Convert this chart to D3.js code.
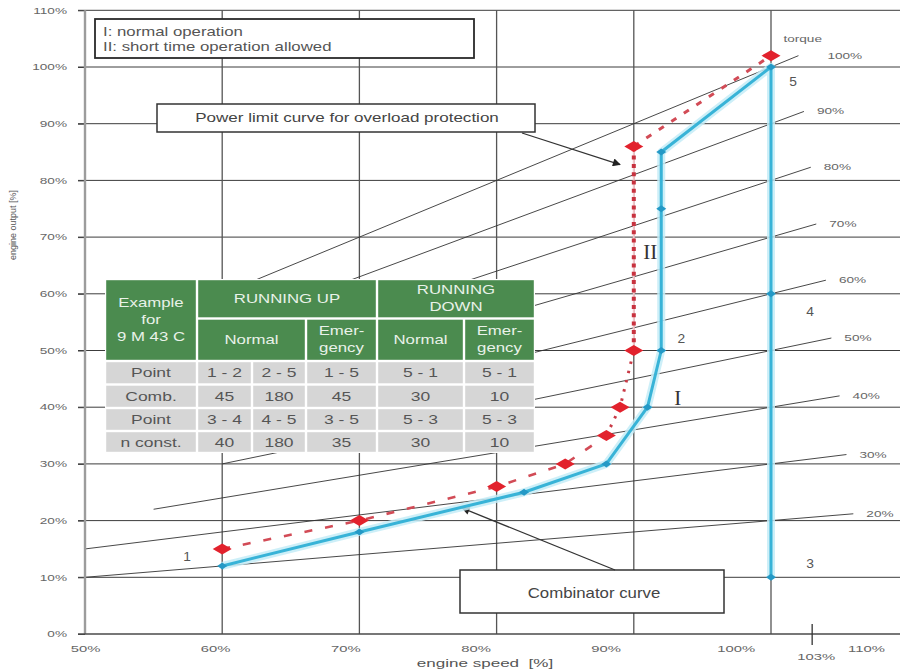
<!DOCTYPE html>
<html>
<head>
<meta charset="utf-8">
<script src="https://cdn.jsdelivr.net/npm/d3@7"></script>
<style>
  html, body { margin: 0; padding: 0; background: #fff; }
  svg { display: block; }
</style>
</head>
<body>
<svg id="chart" width="900" height="671"></svg>
<script>
// ---- values (engine speed and engine output in percent) ----
const speedTicks = [50, 60, 70, 80, 90, 100, 110];
const outputTicks = [0, 10, 20, 30, 40, 50, 60, 70, 80, 90, 100, 110];
const gridSpeeds = [60, 70, 80, 90, 100];
const markedSpeed = 103;

// constant-torque lines: level, speed where each line starts and ends
const torqueLevels = [20, 30, 40, 50, 60, 70, 80, 90, 100];
const torqueFrom = [50, 50, 55, 60, 60, 60, 60, 60, 60];
const torqueTo = [106, 105.5, 105, 104.4, 104, 103.3, 102.9, 102.4, 102];

// power limit curve for overload protection
const limitSpeed = [60, 70, 80, 85, 88, 89, 90, 90, 100];
const limitOutput = [15, 20, 26, 30, 35, 40, 50, 86, 102];

// combinator curve (running points 1..5)
const combSpeed = [60, 70, 82, 88, 91, 92, 92, 92, 100, 100, 100];
const combOutput = [12, 18, 25, 30, 40, 50, 75, 85, 100, 60, 10];
const pointTags = ["1", "2", "3", "4", "5"];
const pointTagIndex = [0, 5, 10, 9, 8];

// example table for 9 M 43 C
const tableCorner = ["Example", "for", "9 M 43 C"];
const tableGroups = [["RUNNING UP"], ["RUNNING", "DOWN"]];
const tableModes = [["Normal"], ["Emer-", "gency"], ["Normal"], ["Emer-", "gency"]];
const tableRowLabels = ["Point", "Comb.", "Point", "n const."];
const tableRows = [
  ["1 - 2", "2 - 5", "1 - 5", "5 - 1", "5 - 1"],
  ["45", "180", "45", "30", "10"],
  ["3 - 4", "4 - 5", "3 - 5", "5 - 3", "5 - 3"],
  ["40", "180", "35", "30", "10"]
];

const legendLines = ["I: normal operation", "II: short time operation allowed"];
const limitNote = "Power limit curve for overload protection";
const combNote = "Combinator curve";

// ---- drawing ----
const SANS = '"Liberation Sans", Arial, Helvetica, sans-serif';
const svg = d3.select("#chart");

const x = d3.scaleLinear().domain([50, 110]).range([85, 908.2]);
const y = d3.scaleLinear().domain([0, 110]).range([634, 10.3]);
const xLabel = d3.scaleLinear().domain([50, 110]).range([85, 866]);

function addText(parent, px, py, str, o = {}) {
  return parent.append("text")
    .attr("transform", `translate(${px},${py}) scale(${o.sx ?? 1.4},1)`)
    .attr("text-anchor", o.anchor ?? "middle")
    .attr("dominant-baseline", "central")
    .attr("font-family", o.family ?? SANS)
    .attr("font-size", o.size ?? 12)
    .attr("font-weight", o.weight ?? 400)
    .attr("fill", o.fill ?? "#555")
    .style("white-space", "pre")
    .text(str);
}

const defs = svg.append("defs");
defs.append("marker")
  .attr("id", "arrowHead")
  .attr("viewBox", "0 0 10 10")
  .attr("refX", 9).attr("refY", 5)
  .attr("markerWidth", 12).attr("markerHeight", 8)
  .attr("markerUnits", "userSpaceOnUse")
  .attr("orient", "auto")
  .append("path").attr("d", "M0,0L10,5L0,10Z").attr("fill", "#222");

// grid
const grid = svg.append("g");
grid.selectAll("line.hgrid")
  .data(outputTicks.filter(d => d > 0))
  .join("line").attr("class", "hgrid")
  .attr("x1", 78).attr("x2", 900)
  .attr("y1", d => y(d)).attr("y2", d => y(d))
  .attr("stroke", "#3c3c3c").attr("stroke-width", 1);
grid.selectAll("line.vgrid")
  .data(gridSpeeds)
  .join("line").attr("class", "vgrid")
  .attr("x1", d => x(d)).attr("x2", d => x(d))
  .attr("y1", y(110)).attr("y2", y(0))
  .attr("stroke", "#555").attr("stroke-width", 1.3);

// constant-torque lines and their labels
const torque = svg.append("g");
torque.selectAll("line")
  .data(torqueLevels)
  .join("line")
  .attr("x1", (d, i) => x(torqueFrom[i]))
  .attr("y1", (d, i) => y(torqueFrom[i] * d / 100))
  .attr("x2", (d, i) => x(torqueTo[i]))
  .attr("y2", (d, i) => y(torqueTo[i] * d / 100))
  .attr("stroke", "#333").attr("stroke-width", 0.9);
torqueLevels.forEach((d, i) => {
  const lx = x(torqueTo[i]) + 13 + (d === 100 ? 16 : 0);
  const ly = y(torqueTo[i] * d / 100);
  addText(torque, lx, ly, d + "%", { size: 8.5, sx: 1.6, anchor: "start", fill: "#666" });
  if (d === 100) addText(torque, lx - 44, ly - 17, "torque", { size: 8.5, sx: 1.6, anchor: "start", fill: "#666" });
});

// axes
const yAxis = d3.axisLeft(y).tickValues(outputTicks).tickFormat(d => d + "%").tickSize(7).tickPadding(11);
const gy = svg.append("g").attr("transform", `translate(${x(50)},0)`).call(yAxis);
gy.select(".domain").remove();
gy.selectAll(".tick line").attr("stroke", "#3c3c3c");
gy.selectAll(".tick text")
  .attr("font-family", SANS).attr("font-size", 8.5).attr("fill", "#666")
  .attr("x", -18 / 1.6).attr("transform", "scale(1.6,1)");

const xAxis = d3.axisBottom(xLabel).tickValues(speedTicks).tickFormat(d => d + "%").tickSize(0).tickPadding(12);
const gx = svg.append("g").attr("transform", `translate(0,${y(0)})`).call(xAxis);
gx.select(".domain").remove();
gx.selectAll(".tick text")
  .attr("font-family", SANS).attr("font-size", 9).attr("fill", "#666")
  .attr("transform", "scale(1.65,1)");

svg.append("line")
  .attr("x1", x(50)).attr("x2", x(50)).attr("y1", y(110)).attr("y2", y(0))
  .attr("stroke", "#9c9c9c").attr("stroke-width", 2.4);
svg.append("line")
  .attr("x1", 78).attr("x2", 900).attr("y1", y(0)).attr("y2", y(0))
  .attr("stroke", "#4a4a4a").attr("stroke-width", 1.3);
svg.append("line")
  .attr("x1", x(markedSpeed)).attr("x2", x(markedSpeed))
  .attr("y1", y(0) - 10).attr("y2", y(0) + 11)
  .attr("stroke", "#333").attr("stroke-width", 1.3);
addText(svg, x(markedSpeed) + 4, 657, markedSpeed + "%", { size: 9, sx: 1.65, fill: "#666" });

addText(svg, 485, 663, "engine speed  [%]", { size: 11, sx: 1.55, fill: "#555" });
svg.append("text")
  .attr("transform", "translate(13,225) rotate(-90)")
  .attr("text-anchor", "middle").attr("dominant-baseline", "central")
  .attr("font-family", SANS).attr("font-size", 9).attr("fill", "#555")
  .text("engine output [%]");

// example table
const tbl = svg.append("g");
const colX = [105, 197, 252, 306, 377, 464, 535];
const rowY = [279, 318.5, 361, 384.5, 408, 431, 453];
const inset = 1.2;
const GREEN = "#4b8b4f", GREY = "#d6d6d6";
tbl.append("rect")
  .attr("x", colX[0]).attr("y", rowY[0])
  .attr("width", colX[6] - colX[0]).attr("height", rowY[6] - rowY[0])
  .attr("fill", "#fff");
function cell(c0, c1, r0, r1, fill, lines, color, size, lh) {
  tbl.append("rect")
    .attr("x", colX[c0] + inset).attr("y", rowY[r0] + inset)
    .attr("width", colX[c1] - colX[c0] - 2 * inset)
    .attr("height", rowY[r1] - rowY[r0] - 2 * inset)
    .attr("fill", fill);
  const cx = (colX[c0] + colX[c1]) / 2;
  const cy = (rowY[r0] + rowY[r1]) / 2;
  lines.forEach((s, k) => {
    addText(tbl, cx, cy + (k - (lines.length - 1) / 2) * lh, s, { size: size, sx: 1.4, fill: color });
  });
}
const HEAD = "#e9f2e9";
cell(0, 1, 0, 2, GREEN, tableCorner, HEAD, 12, 17);
cell(1, 4, 0, 1, GREEN, tableGroups[0], HEAD, 12, 17);
cell(4, 6, 0, 1, GREEN, tableGroups[1], HEAD, 12, 17);
cell(1, 3, 1, 2, GREEN, tableModes[0], HEAD, 12, 17);
cell(3, 4, 1, 2, GREEN, tableModes[1], HEAD, 12, 17);
cell(4, 5, 1, 2, GREEN, tableModes[2], HEAD, 12, 17);
cell(5, 6, 1, 2, GREEN, tableModes[3], HEAD, 12, 17);
tableRows.forEach((row, r) => {
  cell(0, 1, r + 2, r + 3, GREY, [tableRowLabels[r]], "#555", 12.5, 0);
  row.forEach((v, c) => cell(c + 1, c + 2, r + 2, r + 3, GREY, [v], "#555", 12.5, 0));
});

// legend box
const legend = svg.append("g");
legend.append("rect").attr("x", 95).attr("y", 19).attr("width", 379).attr("height", 39)
  .attr("fill", "#fff").attr("stroke", "#2a2a2a").attr("stroke-width", 1.8);
legendLines.forEach((s, i) => addText(legend, 103, 31.5 + i * 15, s, { size: 12, sx: 1.4, anchor: "start", fill: "#555" }));

// annotation boxes with arrows
const notes = svg.append("g");
notes.append("rect").attr("x", 157).attr("y", 104).attr("width", 378).attr("height", 28)
  .attr("fill", "#fff").attr("stroke", "#333").attr("stroke-width", 1.5);
addText(notes, 347, 118, limitNote, { size: 12, sx: 1.42, fill: "#444" });
notes.append("line")
  .attr("x1", 522).attr("y1", 133).attr("x2", x(89)).attr("y2", y(82.8))
  .attr("stroke", "#333").attr("stroke-width", 1.3).attr("marker-end", "url(#arrowHead)");

notes.append("rect").attr("x", 460).attr("y", 570).attr("width", 264).attr("height", 43)
  .attr("fill", "#fff").attr("stroke", "#333").attr("stroke-width", 1.5);
addText(notes, 594, 593, combNote, { size: 14, sx: 1.2, fill: "#444" });
notes.append("line")
  .attr("x1", 615).attr("y1", 570).attr("x2", x(77.5)).attr("y2", y(22.2))
  .attr("stroke", "#333").attr("stroke-width", 1.3).attr("marker-end", "url(#arrowHead)");

// combinator curve
const combPts = combSpeed.map((s, i) => [x(s), y(combOutput[i])]);
const line = d3.line();
const comb = svg.append("g");
comb.append("path").attr("d", line(combPts)).attr("fill", "none")
  .attr("stroke", "#c4ecf7").attr("stroke-width", 8).attr("stroke-linejoin", "round").attr("opacity", 0.85);
comb.append("path").attr("d", line(combPts)).attr("fill", "none")
  .attr("stroke", "#38b3d7").attr("stroke-width", 3).attr("stroke-linejoin", "round");

// power limit curve
const limPts = limitSpeed.map((s, i) => [x(s), y(limitOutput[i])]);
const lim = svg.append("g").attr("fill", "none");
lim.append("path").attr("d", line(limPts.slice(0, 5)))
  .attr("stroke", "#d24b56").attr("stroke-width", 2.6).attr("stroke-dasharray", "8,13");
lim.append("path").attr("d", line(limPts.slice(4, 7)))
  .attr("stroke", "#c93a46").attr("stroke-width", 3).attr("stroke-dasharray", "2.5,7");
lim.append("path").attr("d", line(limPts.slice(6, 8)))
  .attr("stroke", "#f1c4c8").attr("stroke-width", 2);
lim.append("path").attr("d", line(limPts.slice(6, 8)))
  .attr("stroke", "#c8323f").attr("stroke-width", 4).attr("stroke-dasharray", "4,4.3");
lim.append("path").attr("d", line(limPts.slice(7, 9)))
  .attr("stroke", "#d24b56").attr("stroke-width", 3).attr("stroke-dasharray", "6,9");

const diamond = (cx, cy, w, h) => `M${cx - w},${cy}L${cx},${cy - h}L${cx + w},${cy}L${cx},${cy + h}Z`;
svg.append("g").selectAll("path")
  .data(limPts).join("path")
  .attr("d", d => diamond(d[0], d[1], 9.5, 5.5))
  .attr("fill", "#e2222d");
svg.append("g").selectAll("path")
  .data(combPts).join("path")
  .attr("d", d => diamond(d[0], d[1], 5, 3.5))
  .attr("fill", "#2499c6");

// running point numbers
const tagOffset = [[-35, -9], [20, -12], [39, -13], [39, 18], [22, 15]];
pointTags.forEach((t, k) => {
  const p = combPts[pointTagIndex[k]];
  addText(svg, p[0] + tagOffset[k][0], p[1] + tagOffset[k][1], t, { size: 12, sx: 1.15, fill: "#555" });
});

// operating ranges
addText(svg, x(91.2), y(67.3), "II", { size: 21, sx: 1, family: '"Liberation Serif", "DejaVu Serif", serif', fill: "#333" });
addText(svg, x(93.2), y(41.6), "I", { size: 21, sx: 1, family: '"Liberation Serif", "DejaVu Serif", serif', fill: "#333" });
</script>
</body>
</html>
